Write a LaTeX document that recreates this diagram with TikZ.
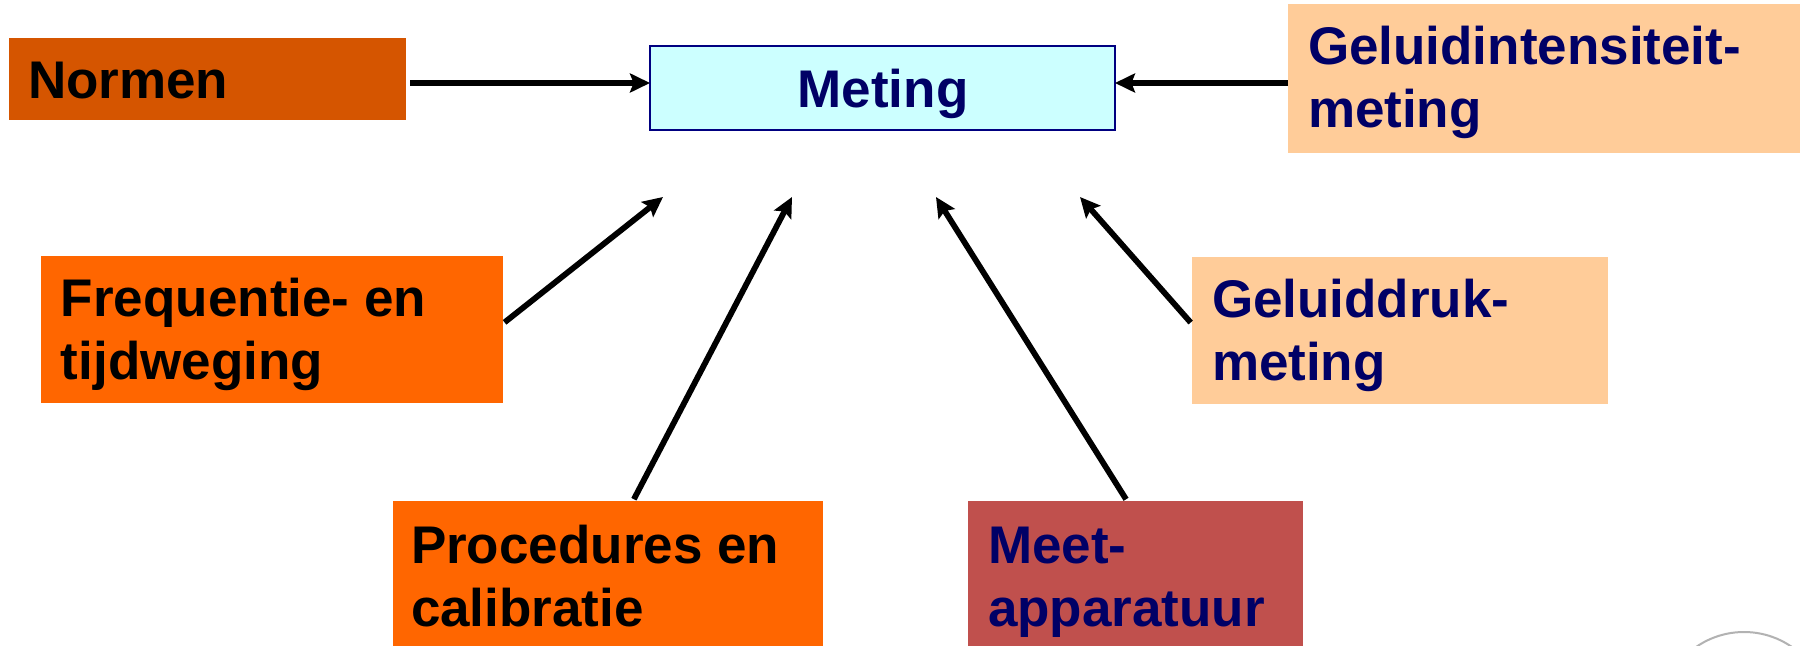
\documentclass[tikz,border=0pt]{standalone}
\usepackage{fontspec}
\setmainfont{Liberation Sans}
\usetikzlibrary{arrows.meta,calc}
\definecolor{normenc}{HTML}{D55500}
\definecolor{orangec}{HTML}{FF6600}
\definecolor{peachc}{HTML}{FFCC99}
\definecolor{meetc}{HTML}{C0504D}
\definecolor{metingc}{HTML}{CCFFFF}
\definecolor{metingb}{HTML}{000080}
\definecolor{navyc}{HTML}{000066}
\tikzset{
  boxst/.style={draw=none, inner sep=0pt, outer sep=0pt, anchor=north west, rectangle},
  lbl/.style={inner sep=0pt, outer sep=0pt, anchor=base west, align=left,
    font=\fontsize{26.5pt}{31.5pt}\selectfont\bfseries},
  arr/.style={draw=black, line width=2.9pt, -{Stealth[length=10pt,width=9.5pt,inset=1.8pt]}},
}
\begin{document}
\begin{tikzpicture}[x=0.5pt,y=-0.5pt]
\useasboundingbox (0,0) rectangle (1810,646);
\clip (0,0) rectangle (1810,646);
\fill[white] (0,0) rectangle (1810,646);

% boxes
\node[boxst, fill=normenc, minimum width=198.5pt, minimum height=41pt] (normen) at (9,38) {};
\node[boxst, fill=metingc, draw=metingb, line width=1pt, minimum width=232.5pt, minimum height=42pt] (meting) at (650,46) {};
\node[boxst, fill=peachc, minimum width=256pt, minimum height=74.5pt] (gi) at (1288,4) {};
\node[boxst, fill=orangec, minimum width=231pt, minimum height=73.5pt] (freq) at (41,256) {};
\node[boxst, fill=peachc, minimum width=208pt, minimum height=73.5pt] (gd) at (1192,257) {};
\node[boxst, fill=orangec, minimum width=215pt, minimum height=80pt] (proc) at (393,501) {};
\node[boxst, fill=meetc, minimum width=167.5pt, minimum height=80pt] (meet) at (968,501) {};

% labels (base anchor = baseline of the last line)
\node[lbl, text=black] (normen-t) at (28,99) {Normen};
\node[lbl, text=navyc, anchor=base] (meting-t) at (883,108) {Meting};
\node[lbl, text=navyc] (gi-t) at (1308,128) {Geluidintensiteit-\\meting};
\node[lbl, text=black] (freq-t) at (61,380) {Frequentie- en\\tijdweging};
\node[lbl, text=navyc] (gd-t) at (1212,381) {Geluiddruk-\\meting};
\node[lbl, text=black] (proc-t) at (411,626) {Procedures en\\calibratie};
\node[lbl, text=navyc] (meet-t) at (988,626) {Meet-\\apparatuur};

% logo circle (partly visible)
\node[circle, draw=gray!60, line width=1pt, minimum size=84pt, inner sep=0pt] (logo) at (1744,716) {};

% connectors
\coordinate (hy) at (0,83);
\coordinate (tfreq) at (663,197);
\coordinate (tproc) at (792,197);
\coordinate (tmeet) at (936,197);
\coordinate (tgd) at (1080,197);
\draw[arr, shorten <=2pt] (normen.east |- hy) -- (meting.west |- hy);
\draw[arr] (gi.west |- hy) -- (meting.east |- hy);
\draw[arr, shorten <=1pt] ($(freq.north east)!0.46!(freq.south east)$) -- (tfreq);
\draw[arr, shorten <=1pt] ($(proc.north west)!0.558!(proc.north east)$) -- (tproc);
\draw[arr, shorten <=1pt] ($(meet.north west)!0.475!(meet.north east)$) -- (tmeet);
\draw[arr, shorten <=1pt] ($(gd.north west)!0.456!(gd.south west)$) -- (tgd);
\end{tikzpicture}
\end{document}
